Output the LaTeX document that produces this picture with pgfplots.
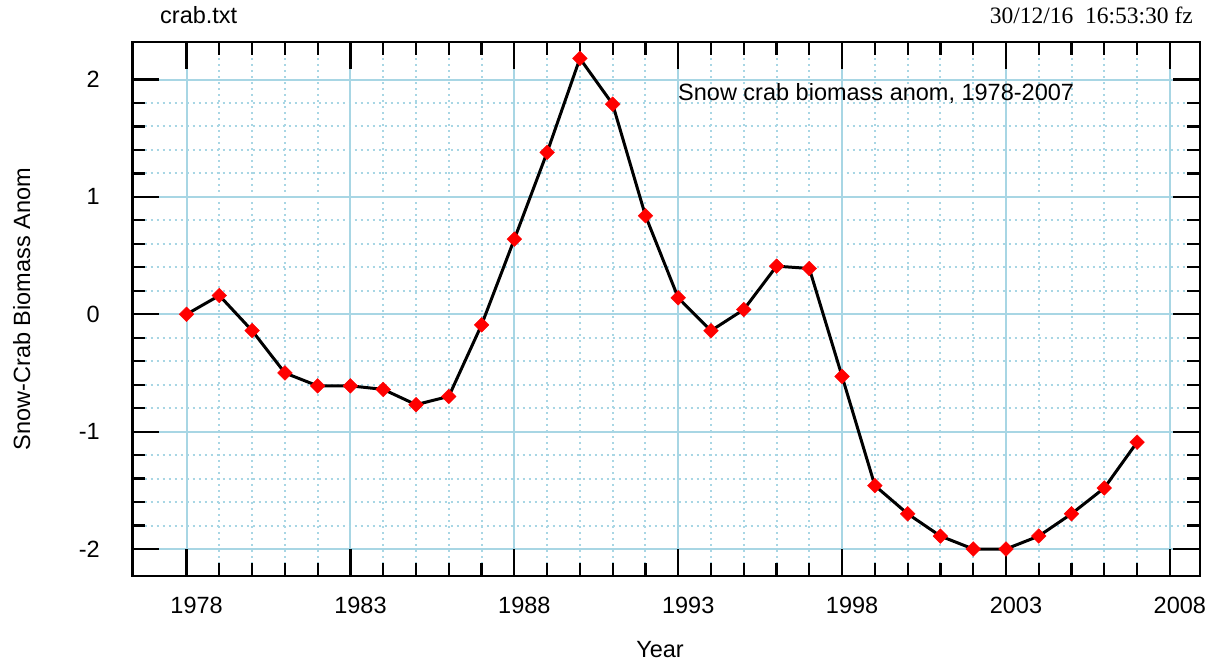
\documentclass[border=0pt]{standalone}
\usepackage{pgfplots}
\usepackage{pgfplotstable}
\pgfplotsset{compat=1.18}
\usepackage{fontspec}
\setmainfont{Liberation Sans}
\newfontfamily\timesf{Liberation Serif}
\definecolor{gridblue}{RGB}{168,214,228}
\pgfplotstableread{
year val
1978 0.00
1979 0.16
1980 -0.14
1981 -0.50
1982 -0.61
1983 -0.61
1984 -0.64
1985 -0.77
1986 -0.70
1987 -0.09
1988 0.64
1989 1.38
1990 2.18
1991 1.79
1992 0.84
1993 0.14
1994 -0.14
1995 0.04
1996 0.41
1997 0.39
1998 -0.53
1999 -1.46
2000 -1.70
2001 -1.89
2002 -2.00
2003 -2.00
2004 -1.89
2005 -1.70
2006 -1.48
2007 -1.09
}\crab
\begin{document}
\fontsize{23.5}{28}\selectfont
\begin{tikzpicture}[x=1pt,y=1pt]
\path[use as bounding box] (0,0) rectangle (1218,666);
\begin{axis}[
  at={(132.5pt,90pt)}, anchor=south west,
  scale only axis, width=1067.5pt, height=534pt,
  xmin=1976.35, xmax=2008.92, ymin=-2.23, ymax=2.32,
  xtick={1978,1983,1988,1993,1998,2003,2008},
  xticklabels={1978,1983,1988,1993,1998,2003,2008},
  ytick={-2,-1,0,1,2}, yticklabels={-2,-1,0,1,2},
  minor x tick num=4, minor y tick num=4,
  grid=both,
  major grid style={gridblue, line width=2pt},
  minor grid style={gridblue, line width=2pt, dash pattern=on 2pt off 4pt},
  tick align=inside,
  major tick length=27pt, minor tick length=13pt,
  tick style={black, line width=2.2pt},
  axis line style={black, line width=2.8pt},
  ticklabel style={font=\fontsize{23.5}{28}\selectfont},
  xticklabel style={yshift=-13pt, xshift=10pt},
  yticklabel style={xshift=-24.7pt},
]
\addplot[only marks, mark=square*, mark size=5.2pt,
  mark options={rotate=45, fill=red, draw=red, line width=0.4pt, solid}]
  table[x=year, y=val] {\crab};
\addplot[black, line width=3pt, no marks] table[x=year, y=val] {\crab};
\end{axis}
\node[anchor=base west, inner sep=0] at (160,642) {crab.txt};
\node[anchor=base east, inner sep=0] at (1193,642) {\timesf 30/12/16\hspace{0.5em}16:53:30 fz};
\node[anchor=base west, inner sep=0] at (678,565) {Snow crab biomass anom, 1978-2007};
\node[anchor=base, inner sep=0] at (660,8) {Year};
\node[anchor=base, inner sep=0, rotate=90] at (30,357) {Snow-Crab Biomass Anom};
\end{tikzpicture}
\end{document}
